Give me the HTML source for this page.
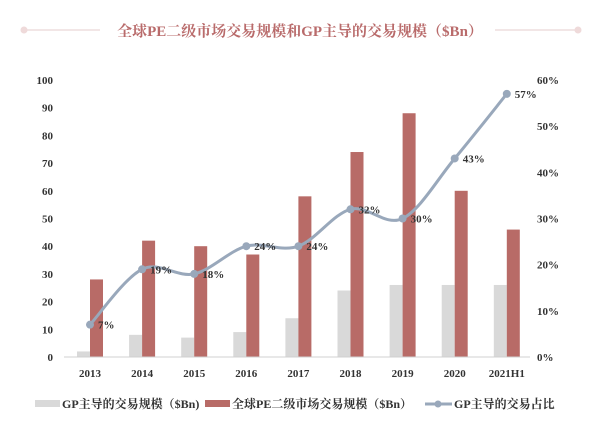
<!DOCTYPE html>
<html><head><meta charset="utf-8"><style>
body{margin:0;background:#fff;}
svg{display:block;font-family:"Liberation Serif","Noto Serif CJK SC",serif;}
</style></head><body>
<svg width="600" height="431" id="c">
<line x1="24" y1="30" x2="100" y2="30" stroke="#eedede" stroke-width="1.5"/>
<circle cx="24" cy="30" r="3.5" fill="#efdada"/>
<line x1="495" y1="30" x2="578" y2="30" stroke="#eedede" stroke-width="1.5"/>
<circle cx="578" cy="30" r="3.5" fill="#efdada"/>
<text x="300" y="36" text-anchor="middle" font-size="15" font-weight="bold" fill="#b96b6b">全球PE二级市场交易规模和GP主导的交易规模（$Bn）</text>
<g id="plot"></g>
<g>
<rect x="35" y="400" width="25" height="7" fill="#d9d9d9"/>
<text x="62" y="408" font-size="12" font-weight="bold" fill="#333">GP主导的交易规模（$Bn)</text>
<rect x="205" y="400" width="25" height="7" fill="#b86b67"/>
<text x="232" y="408" font-size="12" font-weight="bold" fill="#333">全球PE二级市场交易规模（$Bn）</text>
<line x1="425" y1="404" x2="452" y2="404" stroke="#99a8bb" stroke-width="3"/>
<circle cx="438" cy="404" r="3.5" fill="#99a8bb"/>
<text x="454" y="408" font-size="12" font-weight="bold" fill="#333">GP主导的交易占比</text>
</g>
</svg>
<script>
const categories=["2013","2014","2015","2016","2017","2018","2019","2020","2021H1"];
const gpVolume=[2,8,7,9,14,24,26,26,26];
const totalVolume=[28,42,40,37,58,74,88,60,46];
const gpShare=[7,19,18,24,24,32,30,43,57];
const leftTicks=[0,10,20,30,40,50,60,70,80,90,100];
const rightTicks=[0,10,20,30,40,50,60];
const NS="http://www.w3.org/2000/svg";
const g=document.getElementById('plot');
const y0=357,yTop=80,xStart=90,step=52.1;
const yL=v=>y0-(v/100)*(y0-yTop);
const yR=v=>y0-(v/60)*(y0-yTop);
const xC=i=>xStart+i*step;
function mk(t,a){const e=document.createElementNS(NS,t);for(const k in a)e.setAttribute(k,a[k]);g.appendChild(e);return e;}
leftTicks.forEach(v=>{const e=mk('text',{x:53,y:yL(v)+4,'text-anchor':'end','font-size':11,'font-weight':'bold',fill:'#333'});e.textContent=v;

});
rightTicks.forEach(v=>{const e=mk('text',{x:537,y:yR(v)+4,'font-size':11,'font-weight':'bold',fill:'#333'});e.textContent=v+'%';

});
categories.forEach((c,i)=>{
const b1=mk('rect',{x:xC(i)-13,y:yL(gpVolume[i]),width:13,height:y0-yL(gpVolume[i]),fill:'#d9d9d9'});


const b2=mk('rect',{x:xC(i),y:yL(totalVolume[i]),width:13,height:y0-yL(totalVolume[i]),fill:'#b86b67'});


const t=mk('text',{x:xC(i),y:377,'text-anchor':'middle','font-size':11,'font-weight':'bold',fill:'#333'});t.textContent=c;


});
const ax=mk('line',{x1:64,y1:y0,x2:530,y2:y0,stroke:'#d0d0d0','stroke-width':1});


const pts=gpShare.map((v,i)=>[xC(i),yR(v)]);
let d='M'+pts[0][0]+','+pts[0][1];
for(let i=0;i<pts.length-1;i++){const p0=pts[Math.max(i-1,0)],p1=pts[i],p2=pts[i+1],p3=pts[Math.min(i+2,pts.length-1)];
const c1=[p1[0]+(p2[0]-p0[0])/6,p1[1]+(p2[1]-p0[1])/6],c2=[p2[0]-(p3[0]-p1[0])/6,p2[1]-(p3[1]-p1[1])/6];
d+=' C'+c1+' '+c2+' '+p2;}
const ln=mk('path',{d:d,fill:'none',stroke:'#99a8bb','stroke-width':3});


pts.forEach((p,i)=>{const c=mk('circle',{cx:p[0],cy:p[1],r:4,fill:'#99a8bb'});


const t=mk('text',{x:p[0]+8,y:p[1]+4,'font-size':11,'font-weight':'bold',fill:'#333'});t.textContent=gpShare[i]+'%';

});
</script>
</body></html>
